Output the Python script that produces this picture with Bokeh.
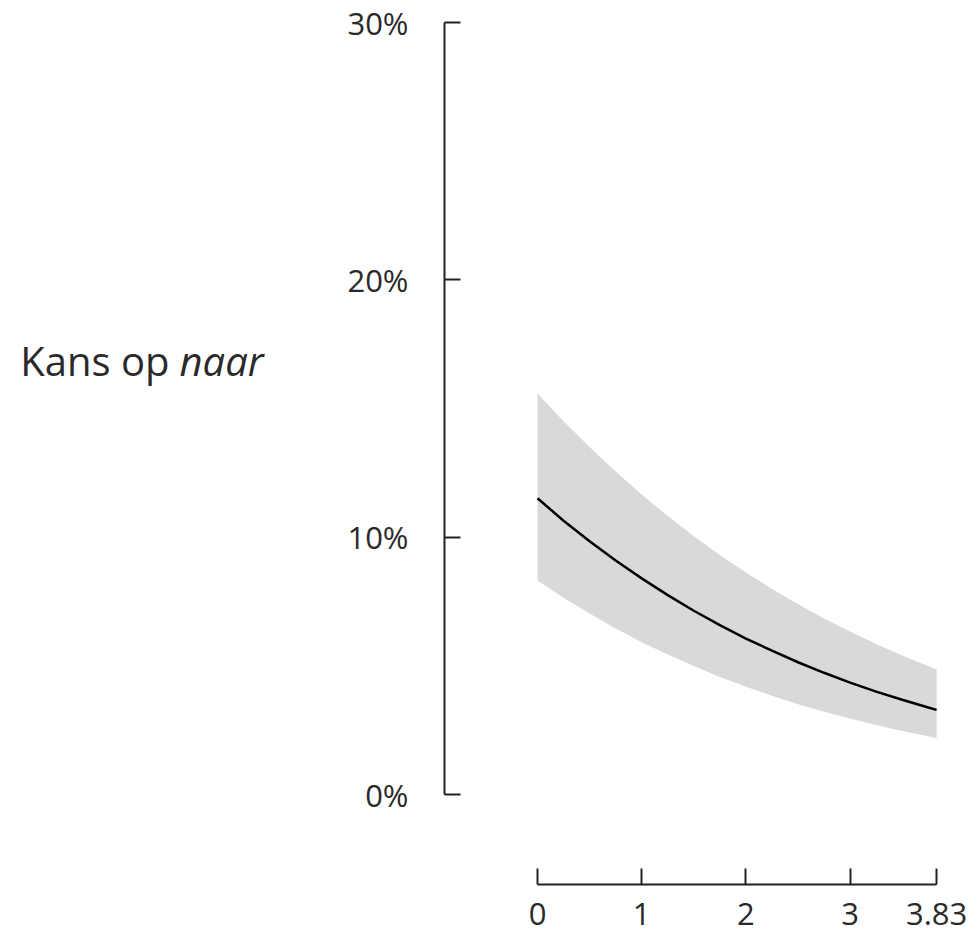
from bokeh.plotting import figure
from bokeh.models import Range1d, FixedTicker, NumeralTickFormatter, Label, ColumnDataSource
from bokeh.embed import file_html
from bokeh.resources import INLINE

# data
x_vals = [0.0, 0.25, 0.5, 0.75, 1.0, 1.25, 1.5, 1.75, 2.0, 2.25, 2.5, 2.75, 3.0, 3.25, 3.5, 3.75, 3.83]
p_mid = [0.1151, 0.1064, 0.0984, 0.0909, 0.0840, 0.0775, 0.0714, 0.0658, 0.0606,
         0.0559, 0.0514, 0.0473, 0.0435, 0.0400, 0.0368, 0.0338, 0.0329]
p_upper = [0.1558, 0.1450, 0.1350, 0.1255, 0.1166, 0.1082, 0.1004, 0.0931, 0.0863,
           0.0799, 0.0740, 0.0684, 0.0633, 0.0585, 0.0540, 0.0499, 0.0487]
p_lower = [0.0832, 0.0765, 0.0703, 0.0645, 0.0592, 0.0544, 0.0499, 0.0457, 0.0419,
           0.0384, 0.0351, 0.0322, 0.0295, 0.0270, 0.0247, 0.0226, 0.0219]
y_ticks = [0.0, 0.1, 0.2, 0.3]
x_ticks = [0, 1, 2, 3, 3.83]
x_tick_labels = {0: "0", 1: "1", 2: "2", 3: "3", 3.83: "3.83"}
title_plain = "Kans op"
title_italic = "naar"

FONT = "Open Sans"
TXT = "#2a2a2a"

src = ColumnDataSource(dict(x=x_vals, mid=p_mid, up=p_upper, lo=p_lower))

# frame spans the whole canvas except the bottom axis panel;
# the y axis sits at a fixed data location inside the frame
p = figure(width=977, height=946, output_backend="svg", toolbar_location=None,
           x_range=Range1d(-5.1536, 4.2226), y_range=Range1d(-0.03497, 0.30855),
           min_border_left=0, min_border_top=0, min_border_bottom=62, min_border_right=0)
p.outline_line_color = None
p.grid.visible = False
p.background_fill_color = "white"
p.border_fill_color = "white"

p.varea(x="x", y1="lo", y2="up", source=src, fill_color="#d9d9d9", fill_alpha=1.0)
p.line(x="x", y="mid", source=src, line_color="black", line_width=2.5)

# y axis
ya = p.yaxis[0]
ya.fixed_location = -0.8925
ya.bounds = (0, 0.3)
ya.ticker = FixedTicker(ticks=y_ticks)
ya.formatter = NumeralTickFormatter(format="0%")
ya.major_tick_in = 16
ya.major_tick_out = 0
ya.minor_tick_line_color = None
ya.axis_line_width = 2
ya.major_tick_line_width = 2
ya.axis_line_color = "#222222"
ya.major_tick_line_color = "#222222"
ya.major_label_standoff = 36
ya.major_label_text_font = FONT
ya.major_label_text_font_size = "31px"
ya.major_label_text_color = TXT

# x axis
xa = p.xaxis[0]
xa.bounds = (0, 3.83)
xa.ticker = FixedTicker(ticks=x_ticks)
xa.major_label_overrides = x_tick_labels
xa.major_tick_in = 16
xa.major_tick_out = 0
xa.minor_tick_line_color = None
xa.axis_line_width = 2
xa.major_tick_line_width = 2
xa.axis_line_color = "#222222"
xa.major_tick_line_color = "#222222"
xa.major_label_standoff = 18
xa.major_label_text_font = FONT
xa.major_label_text_font_size = "31px"
xa.major_label_text_color = TXT

# axis title with an italic part
lab1 = Label(x=-3.5317, y=0.16866, text=title_plain,
             text_font=FONT, text_font_size="40px", text_color=TXT,
             text_align="right", text_baseline="alphabetic")
lab2 = Label(x=-3.4357, y=0.16866, text=title_italic,
             text_font=FONT, text_font_size="40px", text_font_style="italic", text_color=TXT,
             text_align="left", text_baseline="alphabetic")
p.add_layout(lab1)
p.add_layout(lab2)

open("out.html", "w").write(file_html(p, INLINE))
